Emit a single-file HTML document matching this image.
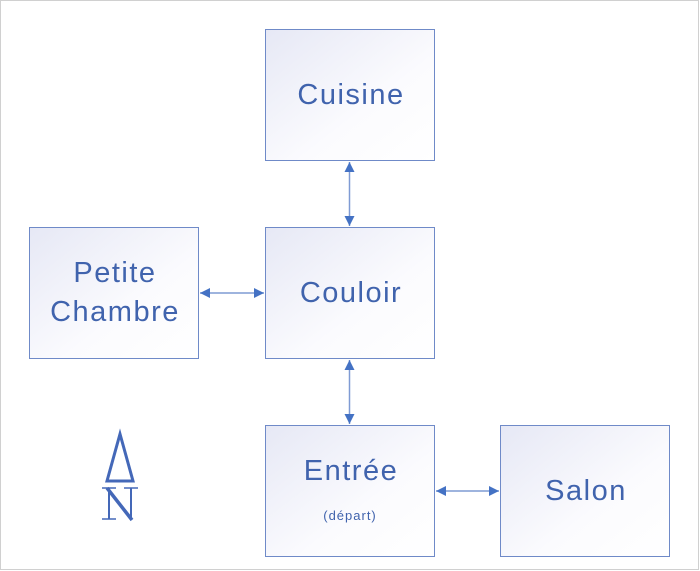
<!DOCTYPE html>
<html><head><meta charset="utf-8"><style>
html,body{margin:0;padding:0;background:#fff;}
svg{display:block;}
text{font-family:"Liberation Sans",sans-serif;fill:#4063ad;}
</style></head><body>
<svg width="700" height="571" viewBox="0 0 700 571" xmlns="http://www.w3.org/2000/svg">
<defs>
<linearGradient id="g" x1="0" y1="0" x2="1" y2="1">
<stop offset="0" stop-color="#e6e8f5"/><stop offset="0.6" stop-color="#fbfbfe"/><stop offset="1" stop-color="#ffffff"/>
</linearGradient>
<marker id="a" viewBox="0 0 10 10" refX="10" refY="5" markerWidth="10" markerHeight="10" markerUnits="userSpaceOnUse" orient="auto-start-reverse">
<path d="M0,0 L10,5 L0,10 z" fill="#4472c4"/>
</marker>
</defs>
<rect x="0.5" y="0.5" width="698" height="569" fill="#fff" stroke="#d0d0d0"/>
<g stroke="#6f8ac8" stroke-width="1" fill="url(#g)">
<rect x="265.5" y="29.5" width="169" height="131"/>
<rect x="265.5" y="227.5" width="169" height="131"/>
<rect x="29.5" y="227.5" width="169" height="131"/>
<rect x="265.5" y="425.5" width="169" height="131"/>
<rect x="500.5" y="425.5" width="169" height="131"/>
</g>
<g stroke="#7f9bd4" stroke-width="1.5" marker-start="url(#a)" marker-end="url(#a)">
<line x1="349.5" y1="162" x2="349.5" y2="226"/>
<line x1="200" y1="293" x2="264" y2="293"/>
<line x1="349.5" y1="360" x2="349.5" y2="424"/>
<line x1="436" y1="491" x2="499" y2="491"/>
</g>
<g font-size="29" text-anchor="middle" letter-spacing="1.5">
<text x="351" y="104">Cuisine</text>
<text x="351" y="302">Couloir</text>
<text x="115" y="282">Petite</text>
<text x="115" y="321">Chambre</text>
<text x="351" y="480">Entrée</text>
<text x="586" y="500">Salon</text>
</g>
<text x="350" y="520" font-size="13" text-anchor="middle" letter-spacing="1" fill="#6f7fcf">(départ)</text>
<path d="M120,434 L133,481 L107,481 z" fill="none" stroke="#4468b8" stroke-width="3"/>
<g stroke="#4468b8" fill="none">
<line x1="102" y1="488" x2="116" y2="488" stroke-width="1.5"/>
<line x1="124" y1="488" x2="138" y2="488" stroke-width="1.5"/>
<line x1="102" y1="519" x2="116" y2="519" stroke-width="1.5"/>
<line x1="109" y1="488" x2="109" y2="519" stroke-width="2"/>
<line x1="131" y1="488" x2="131" y2="520" stroke-width="2"/>
<line x1="107" y1="488" x2="132" y2="520" stroke-width="3.5"/>
</g>
</svg>
</body></html>
